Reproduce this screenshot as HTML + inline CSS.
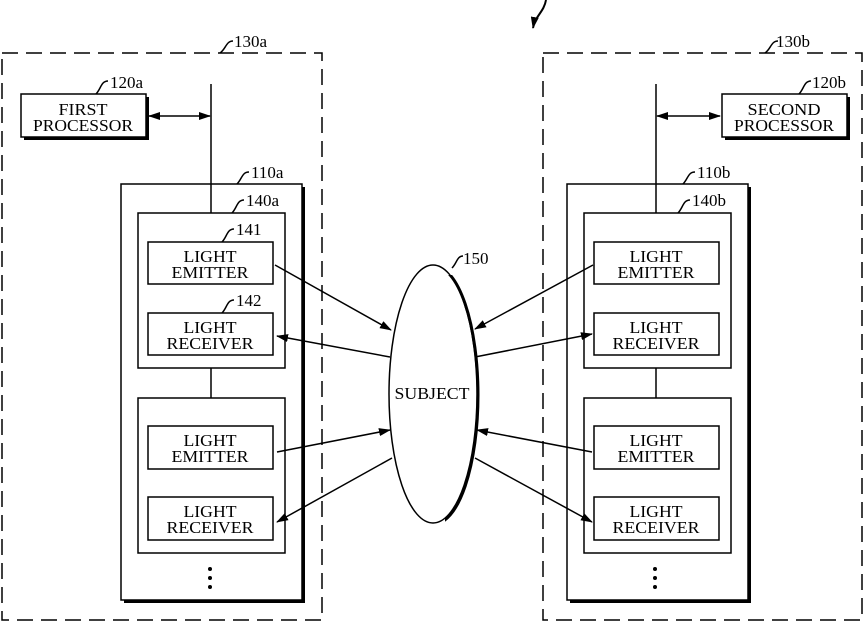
<!DOCTYPE html>
<html><head><meta charset="utf-8"><style>
html,body{margin:0;padding:0;background:#fff;}
svg{display:block;}
text{font-family:"Liberation Serif",serif;fill:#000;}
</style></head><body>
<svg width="864" height="621" viewBox="0 0 864 621" xmlns="http://www.w3.org/2000/svg">
<defs>
<marker id="ah" markerWidth="12" markerHeight="8" refX="11" refY="4" orient="auto-start-reverse" markerUnits="userSpaceOnUse">
<path d="M0,0 L12,4 L0,8 Z" fill="#000"/>
</marker>
<clipPath id="cr"><rect x="445" y="275" width="40" height="250"/></clipPath>
</defs>
<g fill="none" stroke="#000" stroke-width="1.5">
<path d="M546,0 C544,12 535,16 533,28" stroke-width="2" marker-end="url(#ah)"/>
<rect x="2" y="53" width="320" height="567" stroke-dasharray="16,8"/>
<rect x="543" y="53" width="319" height="567" stroke-dasharray="16,8"/>
</g>

<g fill="#000">
<rect x="24" y="97" width="125" height="43"/>
<rect x="124" y="187" width="181" height="416"/>
<rect x="141" y="216" width="147" height="155"/>
<rect x="141" y="401" width="147" height="155"/>
<rect x="151" y="245" width="125" height="42"/>
<rect x="151" y="316" width="125" height="42"/>
<rect x="151" y="429" width="125" height="43"/>
<rect x="151" y="500" width="125" height="43"/>
<rect x="725" y="97" width="125" height="43"/>
<rect x="570" y="187" width="181" height="416"/>
<rect x="587" y="216" width="147" height="155"/>
<rect x="587" y="401" width="147" height="155"/>
<rect x="597" y="245" width="125" height="42"/>
<rect x="597" y="316" width="125" height="42"/>
<rect x="597" y="429" width="125" height="43"/>
<rect x="597" y="500" width="125" height="43"/>
</g>
<g fill="#fff" stroke="#000" stroke-width="1.5">
<rect x="21" y="94" width="125" height="43"/>
<rect x="121" y="184" width="181" height="416"/>
<rect x="138" y="213" width="147" height="155"/>
<rect x="138" y="398" width="147" height="155"/>
<rect x="148" y="242" width="125" height="42"/>
<rect x="148" y="313" width="125" height="42"/>
<rect x="148" y="426" width="125" height="43"/>
<rect x="148" y="497" width="125" height="43"/>
<rect x="722" y="94" width="125" height="43"/>
<rect x="567" y="184" width="181" height="416"/>
<rect x="584" y="213" width="147" height="155"/>
<rect x="584" y="398" width="147" height="155"/>
<rect x="594" y="242" width="125" height="42"/>
<rect x="594" y="313" width="125" height="42"/>
<rect x="594" y="426" width="125" height="43"/>
<rect x="594" y="497" width="125" height="43"/>
</g>

<g fill="none" stroke="#000" stroke-width="1.5">
<path d="M220,53 C226,49 226,41 233,41"/>
<path d="M96,94 C101,89 101,81 108,81"/>
<path d="M237,184 C242,179 242,172 249,172"/>
<path d="M232,213 C237,208 237,200 244,200"/>
<path d="M222,242 C227,237 227,229 234,229"/>
<path d="M222,313 C227,308 227,300 234,300"/>
<path d="M765,53 C771,49 771,41 778,41"/>
<path d="M799,94 C804,89 804,81 811,81"/>
<path d="M683,184 C688,179 688,172 695,172"/>
<path d="M678,213 C683,208 683,200 690,200"/>
<path d="M452,268 C457,263 457,256 463,256"/>
<line x1="211" y1="84" x2="211" y2="213"/>
<line x1="211" y1="368" x2="211" y2="398"/>
<line x1="656" y1="84" x2="656" y2="213"/>
<line x1="656" y1="368" x2="656" y2="398"/>
<line x1="149" y1="116" x2="210" y2="116" marker-start="url(#ah)" marker-end="url(#ah)"/>
<line x1="657" y1="116" x2="720" y2="116" marker-start="url(#ah)" marker-end="url(#ah)"/>
<line x1="275" y1="265" x2="391" y2="330" marker-end="url(#ah)"/>
<line x1="390" y1="357" x2="277" y2="336" marker-end="url(#ah)"/>
<line x1="277" y1="452" x2="390" y2="430" marker-end="url(#ah)"/>
<line x1="392" y1="458" x2="277" y2="522" marker-end="url(#ah)"/>
<line x1="593" y1="265" x2="475" y2="329" marker-end="url(#ah)"/>
<line x1="475" y1="357" x2="592" y2="334" marker-end="url(#ah)"/>
<line x1="592" y1="452" x2="477" y2="430" marker-end="url(#ah)"/>
<line x1="475" y1="458" x2="592" y2="522" marker-end="url(#ah)"/>
<ellipse cx="433" cy="394" rx="44" ry="129" fill="#fff"/>
<ellipse cx="434" cy="395" rx="44" ry="129" stroke-width="3" clip-path="url(#cr)"/>
</g>

<g fill="#000">
<circle cx="210" cy="569" r="2"/><circle cx="210" cy="578" r="2"/><circle cx="210" cy="587" r="2"/>
<circle cx="655" cy="569" r="2"/><circle cx="655" cy="578" r="2"/><circle cx="655" cy="587" r="2"/>
</g>

<g font-size="17" text-anchor="middle" lengthAdjust="spacingAndGlyphs">
<text x="83" y="115" textLength="49" lengthAdjust="spacingAndGlyphs">FIRST</text><text x="83" y="131" textLength="100" lengthAdjust="spacingAndGlyphs">PROCESSOR</text>
<text x="784" y="115" textLength="73" lengthAdjust="spacingAndGlyphs">SECOND</text><text x="784" y="131" textLength="100" lengthAdjust="spacingAndGlyphs">PROCESSOR</text>
<text x="210" y="262" textLength="53" lengthAdjust="spacingAndGlyphs">LIGHT</text><text x="210" y="278" textLength="77" lengthAdjust="spacingAndGlyphs">EMITTER</text>
<text x="210" y="333" textLength="53" lengthAdjust="spacingAndGlyphs">LIGHT</text><text x="210" y="349" textLength="87" lengthAdjust="spacingAndGlyphs">RECEIVER</text>
<text x="210" y="446" textLength="53" lengthAdjust="spacingAndGlyphs">LIGHT</text><text x="210" y="462" textLength="77" lengthAdjust="spacingAndGlyphs">EMITTER</text>
<text x="210" y="517" textLength="53" lengthAdjust="spacingAndGlyphs">LIGHT</text><text x="210" y="533" textLength="87" lengthAdjust="spacingAndGlyphs">RECEIVER</text>
<text x="656" y="262" textLength="53" lengthAdjust="spacingAndGlyphs">LIGHT</text><text x="656" y="278" textLength="77" lengthAdjust="spacingAndGlyphs">EMITTER</text>
<text x="656" y="333" textLength="53" lengthAdjust="spacingAndGlyphs">LIGHT</text><text x="656" y="349" textLength="87" lengthAdjust="spacingAndGlyphs">RECEIVER</text>
<text x="656" y="446" textLength="53" lengthAdjust="spacingAndGlyphs">LIGHT</text><text x="656" y="462" textLength="77" lengthAdjust="spacingAndGlyphs">EMITTER</text>
<text x="656" y="517" textLength="53" lengthAdjust="spacingAndGlyphs">LIGHT</text><text x="656" y="533" textLength="87" lengthAdjust="spacingAndGlyphs">RECEIVER</text>
<text x="432" y="399" textLength="75" lengthAdjust="spacingAndGlyphs">SUBJECT</text>
</g>
<g font-size="17">
<text x="234" y="47">130a</text>
<text x="110" y="88">120a</text>
<text x="251" y="178">110a</text>
<text x="246" y="206">140a</text>
<text x="236" y="235">141</text>
<text x="236" y="306">142</text>
<text x="463" y="264">150</text>
<text x="776" y="47">130b</text>
<text x="812" y="88">120b</text>
<text x="697" y="178">110b</text>
<text x="692" y="206">140b</text>
</g>
</svg>
</body></html>
